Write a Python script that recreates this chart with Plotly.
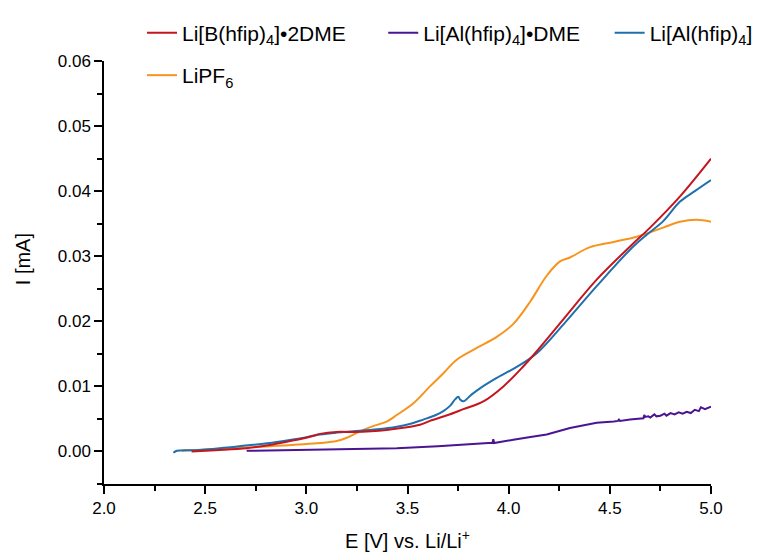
import plotly.graph_objects as go

# Li[B(hfip)4]•2DME (red)
red_x = [2.433, 2.55, 2.705, 2.82, 2.903, 3.0, 3.068, 3.15, 3.232, 3.32, 3.397, 3.47, 3.562, 3.611, 3.70, 3.776,
         3.875, 3.974, 4.073, 4.139, 4.270, 4.435, 4.600, 4.699, 4.847, 5.0]
red_y = [0.0, 0.0002, 0.0005, 0.0010, 0.0015, 0.0021, 0.0027, 0.0030, 0.0030, 0.0031, 0.0033, 0.0036, 0.0041,
         0.0047, 0.0056, 0.0065, 0.0077, 0.0100, 0.0131, 0.0154, 0.0203, 0.0264, 0.0315, 0.0344, 0.0392, 0.0450]

# Li[Al(hfip)4]•DME (purple)
purple_x = [2.705, 2.9, 3.117, 3.30, 3.447, 3.65, 3.825, 3.90, 3.920, 3.924, 3.928, 3.95, 4.023, 4.10, 4.188,
            4.303, 4.435, 4.52, 4.54, 4.545, 4.55, 4.60, 4.666, 4.670, 4.675, 4.69, 4.70, 4.72, 4.73, 4.75,
            4.77, 4.78, 4.80, 4.82, 4.84, 4.86, 4.88, 4.90, 4.92, 4.94, 4.95, 4.97, 5.0]
purple_y = [0.0001, 0.0002, 0.0003, 0.0004, 0.0005, 0.0008, 0.0012, 0.0013, 0.0013, 0.0019, 0.0013, 0.0014,
            0.0018, 0.0022, 0.0026, 0.0036, 0.0044, 0.0046, 0.0047, 0.0049, 0.0047, 0.0049, 0.0051, 0.0056,
            0.0053, 0.0054, 0.0052, 0.0057, 0.0054, 0.0055, 0.0058, 0.0055, 0.0059, 0.0057, 0.0060, 0.0058,
            0.0061, 0.0059, 0.0064, 0.0062, 0.0068, 0.0065, 0.0069]

# Li[Al(hfip)4] (blue)
blue_x = [2.343, 2.36, 2.45, 2.573, 2.70, 2.821, 2.95, 3.068, 3.15, 3.232, 3.35, 3.447, 3.520, 3.578, 3.640,
          3.677, 3.710, 3.735, 3.751, 3.760, 3.776, 3.815, 3.858, 3.941, 4.040, 4.139, 4.270, 4.435, 4.600,
          4.682, 4.764, 4.847, 4.92, 5.0]
blue_y = [-0.0002, 0.0001, 0.0002, 0.0005, 0.0009, 0.0013, 0.0019, 0.0026, 0.0029, 0.0031, 0.0034, 0.0038,
          0.0043, 0.0049, 0.0056, 0.0062, 0.0070, 0.0080, 0.0084, 0.0080, 0.0077, 0.0087, 0.0097, 0.0113,
          0.0130, 0.0151, 0.0195, 0.0254, 0.0310, 0.0333, 0.0354, 0.0384, 0.0400, 0.0417]

# LiPF6 (orange)
orange_x = [2.384, 2.573, 2.821, 3.068, 3.150, 3.200, 3.265, 3.330, 3.397, 3.447, 3.529, 3.611, 3.680, 3.743,
            3.842, 3.941, 4.023, 4.106, 4.188, 4.254, 4.303, 4.402, 4.518, 4.633, 4.764, 4.847, 4.930, 5.0]
orange_y = [0.0001, 0.0004, 0.0008, 0.0013, 0.0016, 0.0021, 0.0031, 0.0039, 0.0046, 0.0056, 0.0074, 0.0100,
            0.0121, 0.0141, 0.0159, 0.0176, 0.0196, 0.0230, 0.0270, 0.0292, 0.0298, 0.0314, 0.0322, 0.0330,
            0.0344, 0.0353, 0.0356, 0.0353]

names = ["Li[B(hfip)<sub>4</sub>]•2DME", "Li[Al(hfip)<sub>4</sub>]•DME",
         "Li[Al(hfip)<sub>4</sub>]", "LiPF<sub>6</sub>"]
colors = ["#C3161F", "#4B1592", "#1F70AD", "#F7941E"]

x_ticks = [2.0, 2.5, 3.0, 3.5, 4.0, 4.5, 5.0]
y_ticks = [0.00, 0.01, 0.02, 0.03, 0.04, 0.05, 0.06]

FONT = "Arial, Liberation Sans, sans-serif"

fig = go.Figure()
series = [(orange_x, orange_y, 3, "legend4", "spline"),
          (purple_x, purple_y, 1, "legend2", "linear"),
          (blue_x, blue_y, 2, "legend3", "spline"),
          (red_x, red_y, 0, "legend", "spline")]
for xs, ys, idx, lg, shape in series:
    fig.add_trace(go.Scatter(
        x=xs, y=ys, mode="lines", name=names[idx],
        line=dict(color=colors[idx], width=2, shape=shape, smoothing=1.0 if shape == "spline" else None),
        legend=lg, showlegend=True))

axis_common = dict(
    showline=True, linecolor="black", linewidth=1.5, mirror=False,
    ticks="outside", ticklen=8, tickwidth=1.5, tickcolor="black",
    showgrid=False, zeroline=False, automargin=False,
    tickfont=dict(family=FONT, size=17, color="black"),
)

fig.update_layout(
    width=759, height=552,
    margin=dict(l=104, r=48, t=61, b=68, autoexpand=False),
    paper_bgcolor="white", plot_bgcolor="white",
    font=dict(family=FONT, color="black"),
    xaxis=dict(range=[2.0, 5.0], tickvals=x_ticks, tickformat=".1f",
               title=dict(text="E [V] vs. Li/Li<sup>+</sup>", font=dict(family=FONT, size=20), standoff=18),
               **axis_common,
               minor=dict(ticks="outside", ticklen=5, tickwidth=1.5, tickcolor="black", dtick=0.25, tick0=2.0)),
    yaxis=dict(range=[-0.005, 0.06], tickvals=y_ticks, tickformat=".2f",
               **axis_common,
               minor=dict(ticks="outside", ticklen=5, tickwidth=1.5, tickcolor="black", dtick=0.005, tick0=0.0)),
    annotations=[dict(text="I [mA]", xref="paper", yref="paper", x=(23 - 104) / 607, y=(483.5 - 259) / 422.5,
                      textangle=-90, showarrow=False, font=dict(family=FONT, size=20, color="black"),
                      xanchor="center", yanchor="middle")],
)

leg_common = dict(orientation="h", bgcolor="rgba(0,0,0,0)", borderwidth=0,
                  font=dict(family=FONT, size=21, color="black"), xanchor="left", yanchor="middle")
fig.update_layout(
    legend=dict(x=0.0626, y=1.066, **leg_common),
    legend2=dict(x=0.460, y=1.066, **leg_common),
    legend3=dict(x=0.833, y=1.066, **leg_common),
    legend4=dict(x=0.0626, y=0.9657, **leg_common),
)

fig.write_html("out.html")
